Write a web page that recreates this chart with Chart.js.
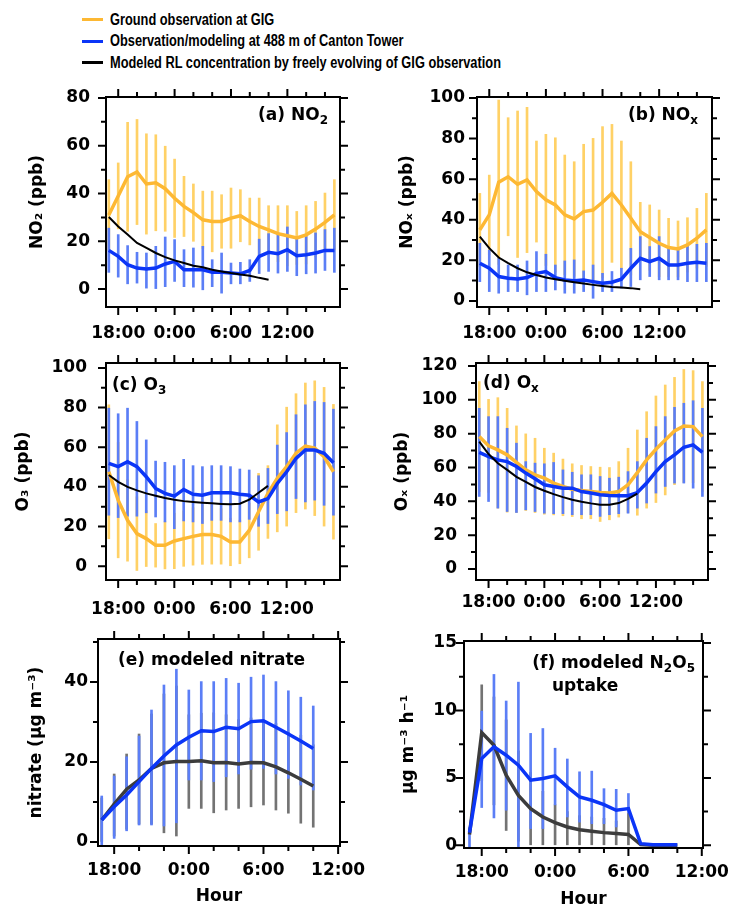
<!DOCTYPE html>
<html>
<head>
<meta charset="utf-8">
<script src="https://cdn.jsdelivr.net/npm/chart.js@4.4.1/dist/chart.umd.min.js"></script>
<style>
  html, body { margin: 0; padding: 0; background: #fff; }
  body { width: 731px; height: 910px; position: relative; overflow: hidden; }
  canvas { position: absolute; }
  #legend { position: absolute; left: 82px; top: 9px; }
  .row { height: 21.5px; display: flex; align-items: center; }
  .swatch { width: 21px; height: 3px; margin-right: 7px; flex: none; }
  .txt { font: bold 16px "Liberation Sans", Arial, sans-serif; white-space: nowrap;
         transform: scaleX(0.80); transform-origin: left center; }
</style>
</head>
<body>
<div id="legend">
  <div class="row"><div class="swatch" style="background:#fdb833"></div><div class="txt">Ground observation at GIG</div></div>
  <div class="row"><div class="swatch" style="background:#0b35f7"></div><div class="txt">Observation/modeling at 488 m of Canton Tower</div></div>
  <div class="row"><div class="swatch" style="background:#000"></div><div class="txt">Modeled RL concentration by freely evolving of GIG observation</div></div>
</div>
<script>
// hours: 17:00 on day 1 up to 17:00 (a-d) or 10:00 (model runs, e-f) next day
const hoursFull = [17, 18, 19, 20, 21, 22, 23, 24, 25, 26, 27, 28, 29, 30, 31, 32, 33, 34, 35, 36, 37, 38, 39, 40, 41];
const hoursNight = [17, 18, 19, 20, 21, 22, 23, 24, 25, 26, 27, 28, 29, 30, 31, 32, 33, 34];
const hourLabels = [18, 24, 30, 36];

// (a) NO2, ppb
const gigNO2 = [31, 39, 47, 49, 44, 44.5, 42, 38, 34.6, 32, 29, 28.3, 28.3, 29.7, 30.7, 28.3, 26.2, 24.8, 23.2, 22.3, 21.4, 22.7, 25.1, 27.9, 31.1];
const gigNO2Hi = [45.8, 52.8, 69.8, 71, 65, 64.6, 59.8, 54.4, 47.2, 44, 41, 41, 39.5, 42.3, 41.6, 38.1, 38.1, 34.9, 34.9, 34.9, 32.5, 34.9, 36.7, 40.2, 45.8];
const gigNO2Lo = [16.2, 25.2, 24.2, 27, 23, 24.4, 24.2, 21.6, 22, 20, 17, 15.6, 17.1, 17.1, 19.8, 18.5, 14.3, 14.7, 11.5, 9.7, 10.3, 10.5, 13.5, 15.6, 16.4];
const towerNO2 = [16.2, 13.7, 10.2, 8.8, 8.4, 8.8, 10.5, 11.6, 8.1, 8.1, 8.1, 7, 7, 6.7, 6.4, 7.8, 13.7, 15.4, 14.8, 16.5, 14, 14.4, 15.1, 16.2, 16.2];
const towerNO2Hi = [25.5, 22.8, 18.2, 15.4, 15.1, 17.9, 21.8, 20.7, 16.5, 17.2, 17.9, 12.3, 15.1, 10.9, 11.2, 12.3, 20.9, 23.2, 22.8, 26, 22, 22, 23.5, 24.9, 25.5];
const towerNO2Lo = [7, 5, 2.2, 2.5, 0.4, 0, 1, 3.2, 1, 0.8, -0.3, 1, -1.7, 2.2, 2.2, 3.2, 6.5, 7.4, 6.7, 7.4, 5.6, 6.4, 6.7, 7.8, 7];
const rlNO2 = [30.2, 26.2, 22.8, 19.3, 17.2, 15.1, 13.4, 12, 10.9, 9.8, 9.1, 8.1, 7.4, 6.7, 6.1, 5.6, 4.7, 3.9];

// (b) NOx, ppb
const gigNOx = [35, 42.4, 58.5, 61.2, 57.5, 59.6, 53.9, 49.8, 47.3, 42.4, 40.4, 44, 44.8, 48.6, 53, 47.3, 40.7, 34.1, 31.2, 28.4, 26.3, 25.6, 27.6, 30.9, 35];
const gigNOxHi = [53, 62, 99, 90.3, 93.6, 95.4, 78.8, 82.1, 80.4, 71.9, 68.6, 77.2, 80.1, 85.9, 87, 78.8, 68.6, 48.6, 47.3, 44.8, 40.7, 39.4, 41, 45.6, 53];
const gigNOxLo = [17, 22.8, 18, 32.1, 21.4, 23.8, 29, 17.5, 14.2, 12.9, 12.2, 10.8, 9.5, 11.3, 19, 15.8, 12.8, 19.6, 15.1, 12, 11.9, 11.8, 14.2, 16.2, 17];
const towerNOx = [18.6, 16.1, 12, 11.2, 10.8, 11.5, 13.6, 14.5, 11.5, 10.3, 9.9, 10.3, 9.5, 8.7, 9.2, 10.7, 16.1, 21, 19.4, 21, 17.7, 17.7, 18.6, 19, 18.6];
const towerNOxHi = [28.4, 25.1, 21, 17.7, 17.7, 19.7, 24.3, 23, 17.7, 19.7, 20.2, 14.8, 17.7, 13.6, 14.5, 16.1, 25.9, 31.7, 26.8, 31.7, 26.3, 26.3, 27.6, 27.9, 28.4];
const towerNOxLo = [9.5, 4.6, 3.8, 4.6, 4.6, 3, 4.6, 4.6, 5.4, 3.8, 3.8, 4.6, 1.3, 4.6, 4.6, 6.3, 7.1, 10.4, 12, 10.4, 10.4, 10.4, 9.5, 9.5, 9.5];
const rlNOx = [31.7, 26, 21.4, 18.6, 16.1, 14.1, 12.8, 11.5, 10.7, 9.9, 9.2, 8.6, 7.9, 7.3, 6.8, 6.6, 6.3, 5.7];

// (c) O3, ppb
const gigO3 = [47.6, 33.3, 23.1, 16.4, 13.9, 10.5, 10.5, 12.7, 13.9, 15, 15.9, 16, 15, 12.2, 12.2, 18, 27.4, 36.7, 44.3, 50.2, 57, 60.6, 59.5, 55.2, 47.6];
const gigO3Hi = [81.4, 62.4, 43.7, 35, 28, 21.5, 22.4, 26.7, 27.9, 29.5, 30.9, 31, 29, 24.2, 23.2, 31.8, 46.8, 50.7, 71.3, 80.2, 87, 92.4, 93.5, 90.2, 81.6];
const gigO3Lo = [13.8, 4.2, 2.5, -2.2, -0.2, -0.5, -1.4, -1.3, -0.1, 0.5, 0.9, 1, 1, 0.2, 1.2, 4.2, 8, 14, 17.3, 20.2, 27, 28.8, 25.5, 20.2, 13.6];
const towerO3 = [51.9, 50.2, 52.7, 50.2, 45.1, 39.2, 36.7, 35.3, 38.7, 36.3, 35.8, 37, 37, 37, 36.3, 35.8, 32.4, 34.1, 41.7, 47.6, 54.4, 58.6, 58.6, 56.9, 52.2];
const towerO3Hi = [79.7, 76.9, 79.7, 73, 63.7, 53, 52.4, 50.7, 53.9, 50.7, 50.2, 50.7, 50.7, 50.2, 49, 48.5, 45.6, 49.3, 61.1, 67.4, 76.4, 81.4, 83.1, 82.6, 79.2];
const towerO3Lo = [25.7, 24.5, 25.2, 25.2, 26.9, 24.8, 22.3, 18.9, 22.8, 22.3, 21.5, 23.1, 23.1, 22.3, 22.3, 23.6, 20.1, 21.5, 26.5, 27.9, 34.1, 32.4, 33.3, 30.7, 25.7];
const rlO3 = [46, 42.5, 40, 38.2, 36.7, 35.5, 34.4, 33.5, 32.8, 32.4, 32, 31.7, 31.4, 31.2, 31.5, 33.5, 37, 40.5];

// (d) Ox, ppb
const gigOx = [78.3, 72.8, 70.4, 67.5, 63, 58.6, 55.7, 53.7, 50.8, 48.8, 47.2, 46.4, 45.8, 45.2, 44.9, 45.8, 49.8, 57, 64.5, 70.8, 76.3, 81.6, 84.6, 84.2, 78.3];
const gigOxHi = [110.8, 100.3, 101.3, 95, 84.6, 79.9, 77.3, 71.4, 68.5, 65, 62.2, 61.2, 60.6, 60.2, 60, 63.5, 71.4, 82.2, 93, 102.3, 108.8, 113.3, 118, 117.3, 110.8];
const gigOxLo = [45.8, 45.3, 36, 33.6, 33.4, 34.6, 33.4, 32.4, 32, 31.5, 31, 29.7, 29.7, 28.1, 29.1, 30.7, 33.4, 31.8, 36, 39.3, 43.8, 49.9, 51.2, 51.1, 45.8];
const towerOx = [68.9, 66.5, 64.5, 63.5, 60.6, 56.7, 53.3, 49.8, 48.8, 47.8, 47.8, 45.8, 44.9, 43.9, 43.5, 43.3, 43.3, 45.2, 50.8, 57.6, 63.5, 67.5, 72, 73.4, 68.9];
const towerOxHi = [95, 90.1, 90.1, 83.2, 74.4, 63.5, 62.6, 62.2, 63, 58.6, 57.2, 55.7, 55.7, 54.7, 53.7, 54.3, 57.6, 63.5, 77.3, 84.2, 90.1, 95.6, 98, 99.5, 95];
const towerOxLo = [42.9, 39.9, 36, 34, 33.4, 35, 34, 33, 32.7, 32.7, 32.1, 32.1, 32.1, 31.1, 32.1, 32.7, 33, 36, 39, 44.9, 48.8, 50.8, 50.8, 47.8, 42.9];
const rlOx = [75.3, 68, 62.5, 58.6, 54.5, 51.5, 48.5, 46.3, 44.3, 42.5, 41, 39.8, 38.8, 38, 38, 39, 41.5, 44.5];

// (e) modeled nitrate, ug m-3
const nitrateTower = [5.5, 8.8, 11.75, 15.1, 18.4, 21.5, 24.25, 26.2, 27.8, 27.6, 28.7, 28.3, 30.1, 30.3, 28.7, 27, 25.25, 23.4];
const nitrateTowerHi = [11.5, 16.5, 21.3, 26.5, 33, 39.25, 43.2, 38, 40.1, 40.1, 40.9, 39.7, 41.2, 41.75, 40.1, 37.8, 36.2, 34];
const nitrateTowerLo = [-1.5, 0.9, 2.8, 4.25, 4.25, 4, 4.8, 15.5, 15.5, 15.1, 16.3, 17, 18.2, 18.4, 17, 15.9, 14.25, 13];
const nitrateRL = [5.5, 9.5, 13.2, 15.5, 18.4, 19.8, 20.1, 20.1, 20.3, 19.8, 19.9, 19.5, 19.9, 19.8, 18.8, 17.3, 15.7, 14];
const nitrateRLHi = [11, 17, 22, 27, 32, 37, 39, 31.8, 32.2, 32.3, 31.8, 30.6, 31, 30.4, 29.6, 27.4, 26.7, 24.3];
const nitrateRLLo = [0, 1.5, 3.2, 4.5, 4.5, 2.3, 1.5, 8.4, 8.4, 7.3, 8, 8.4, 8.8, 9.25, 8, 7.2, 4.7, 3.7];

// (f) modeled N2O5 uptake, ug m-3 h-1
const uptakeTower = [0.94, 6.43, 7.3, 6.68, 5.94, 4.83, 4.95, 5.15, 4.33, 3.59, 3.34, 3.02, 2.6, 2.72, 0.12, 0.05, 0.05, 0.05];
const uptakeTowerHi = [1.3, 9.95, 12.67, 10.7, 12.1, 8.3, 8.66, 7.2, 6.4, 5.45, 5.5, 4.2, 4.15, 3.84, null, null, null, null];
const uptakeTowerLo = [-0.3, 2.8, 2.03, 2.6, -0.1, 1.24, 1.24, 3.0, 2.1, 1.72, 1.6, 1.6, 1.36, 2.4, null, null, null, null];
const uptakeRL = [0.8, 8.36, 7.42, 5.2, 3.7, 2.72, 2.1, 1.68, 1.36, 1.16, 1.04, 0.94, 0.87, 0.8, 0.05, 0, 0, 0];
const uptakeRLHi = [null, 11.9, 11, 9.3, 7, 5.4, 4, 3.0, 2.5, 2.2, 2.1, 2.0, 1.8, 2.4, null, null, null, null];
const uptakeRLLo = [null, 4.8, 3, 1.1, 0.3, 0, 0, 0, 0, 0, 0, 0, 0, 0, null, null, null, null];


const FONT = '"DejaVu Sans", sans-serif';
const YELLOW = '#fdb833', YELLOW_BAR = '#ffd166';
const BLUE = '#0b35f7', BLUE_BAR = '#5b7ef6';
const GRAY = '#3c3c3c', GRAY_BAR = '#737373';

Chart.defaults.font.family = FONT;
Chart.defaults.font.size = 17;
Chart.defaults.font.weight = 'bold';
Chart.defaults.color = '#000';

function errBars(xs, lo, hi, color, order) {
    return {
        type: 'bar',
        data: xs.map((x, i) => ({ x: x, y: lo[i] == null ? null : [lo[i], hi[i]] })),
        backgroundColor: color,
        barThickness: 2,
        grouped: false,
        order: order
    };
}

function line(xs, ys, color, width, order) {
    return {
        type: 'line',
        data: xs.map((x, i) => ({ x: x, y: ys[i] })),
        borderColor: color,
        borderWidth: width,
        pointRadius: 0,
        tension: 0,
        fill: false,
        order: order
    };
}

// text with subscripts, parts = [[text, isSub], ...]
function drawRich(ctx, parts, x, y, align) {
    const big = 'bold 17px ' + FONT, small = 'bold 12px ' + FONT;
    let w = 0;
    parts.forEach(p => { ctx.font = p[1] ? small : big; w += ctx.measureText(p[0]).width; });
    let cx = align === 'right' ? x - w : x;
    ctx.textAlign = 'left';
    ctx.textBaseline = 'alphabetic';
    ctx.fillStyle = '#000';
    parts.forEach(p => {
        ctx.font = p[1] ? small : big;
        ctx.fillText(p[0], cx, p[1] ? y + 4 : y);
        cx += ctx.measureText(p[0]).width;
    });
}

// box around the plot, ticks on all four sides, panel caption
const framePlugin = {
    id: 'frame',
    afterDraw(chart, args, o) {
        const { ctx, chartArea: a } = chart;
        const x = chart.scales.x, y = chart.scales.y;
        ctx.save();
        ctx.strokeStyle = '#000';
        ctx.lineWidth = 2;
        ctx.strokeRect(a.left, a.top, a.right - a.left, a.bottom - a.top);
        ctx.beginPath();
        for (let h = 18; h <= x.max + 0.01; h += 2) {
            const px = x.getPixelForValue(h);
            const len = h % 6 === 0 ? 8 : 5;
            ctx.moveTo(px, a.bottom); ctx.lineTo(px, a.bottom + len);
            ctx.moveTo(px, a.top); ctx.lineTo(px, a.top - len);
        }
        for (let v = 0; v <= y.max + 1e-6; v += o.minor) {
            const py = y.getPixelForValue(v);
            const r = v / o.major;
            const len = Math.abs(r - Math.round(r)) < 1e-6 ? 8 : 5;
            ctx.moveTo(a.left, py); ctx.lineTo(a.left - len, py);
            ctx.moveTo(a.right, py); ctx.lineTo(a.right + len, py);
        }
        ctx.stroke();
        o.captions.forEach(c => {
            const cx = c.align === 'right' ? a.right - c.dx : a.left + c.dx;
            drawRich(ctx, c.parts, cx, a.top + c.dy, c.align);
        });
        ctx.restore();
    }
};

const panels = [
    { cx: 0, cy: 80, cw: 365, ch: 265, box: { l: 106, t: 97, r: 340, b: 307 }, titleLeft: 27, yGap: 16, xGap: 16,
      xMin: 16.7, xMax: 41.6, yMin: -7.5, yMax: 80.4, yTicks: [0, 20, 40, 60, 80], major: 20, minor: 10,
      yTitle: 'NO₂ (ppb)',
      captions: [{ parts: [['(a) NO'], ['2', 1]], align: 'right', dx: 12, dy: 23 }],
      datasets: [
          errBars(hoursFull, gigNO2Lo, gigNO2Hi, YELLOW_BAR, 6),
          errBars(hoursFull, towerNO2Lo, towerNO2Hi, BLUE_BAR, 5),
          line(hoursFull, gigNO2, YELLOW, 3.5, 3),
          line(hoursFull, towerNO2, BLUE, 3.5, 2),
          line(hoursNight, rlNO2, '#000', 2, 1)
      ] },
    { cx: 365, cy: 80, cw: 366, ch: 265, box: { l: 477, t: 97, r: 712, b: 307 }, titleLeft: 397, yGap: 12, xGap: 16,
      xMin: 16.7, xMax: 41.6, yMin: -3, yMax: 100.5, yTicks: [0, 20, 40, 60, 80, 100], major: 20, minor: 10,
      yTitle: 'NOₓ (ppb)',
      captions: [{ parts: [['(b) NO'], ['x', 1]], align: 'right', dx: 14, dy: 23 }],
      datasets: [
          errBars(hoursFull, gigNOxLo, gigNOxHi, YELLOW_BAR, 6),
          errBars(hoursFull, towerNOxLo, towerNOxHi, BLUE_BAR, 5),
          line(hoursFull, gigNOx, YELLOW, 3.5, 3),
          line(hoursFull, towerNOx, BLUE, 3.5, 2),
          line(hoursNight, rlNOx, '#000', 2, 1)
      ] },
    { cx: 0, cy: 348, cw: 365, ch: 282, box: { l: 106, t: 363, r: 340, b: 580 }, titleLeft: 13, yGap: 19, xGap: 19,
      xMin: 16.7, xMax: 41.7, yMin: -7, yMax: 102.5, yTicks: [0, 20, 40, 60, 80, 100], major: 20, minor: 10,
      yTitle: 'O₃ (ppb)',
      captions: [{ parts: [['(c) O'], ['3', 1]], align: 'left', dx: 6, dy: 27 }],
      datasets: [
          errBars(hoursFull, gigO3Lo, gigO3Hi, YELLOW_BAR, 6),
          errBars(hoursFull, towerO3Lo, towerO3Hi, BLUE_BAR, 5),
          line(hoursFull, gigO3, YELLOW, 3.5, 3),
          line(hoursFull, towerO3, BLUE, 3.5, 2),
          line(hoursNight, rlO3, '#000', 2, 1)
      ] },
    { cx: 365, cy: 348, cw: 366, ch: 282, box: { l: 476, t: 363, r: 708, b: 580 }, titleLeft: 392, yGap: 19, xGap: 12,
      xMin: 16.65, xMax: 41.6, yMin: -6.5, yMax: 121.8, yTicks: [0, 20, 40, 60, 80, 100, 120], major: 20, minor: 10,
      yTitle: 'Oₓ (ppb)',
      captions: [{ parts: [['(d) O'], ['x', 1]], align: 'left', dx: 7, dy: 25 }],
      datasets: [
          errBars(hoursFull, gigOxLo, gigOxHi, YELLOW_BAR, 6),
          errBars(hoursFull, towerOxLo, towerOxHi, BLUE_BAR, 5),
          line(hoursFull, gigOx, YELLOW, 3.5, 3),
          line(hoursFull, towerOx, BLUE, 3.5, 2),
          line(hoursNight, rlOx, '#000', 2, 1)
      ] },
    { cx: 0, cy: 625, cw: 372, ch: 285, box: { l: 98, t: 639, r: 340, b: 846 }, titleLeft: 26, yGap: 10, xGap: 14,
      xMin: 16.7, xMax: 36.15, yMin: -1, yMax: 50.75, yTicks: [0, 20, 40], major: 20, minor: 10,
      yTitle: 'nitrate (μg m⁻³)', xTitle: 'Hour', xTitlePad: 3,
      captions: [{ parts: [['(e) modeled nitrate']], align: 'left', dx: 20, dy: 26 }],
      datasets: [
          errBars(hoursNight, nitrateRLLo, nitrateRLHi, GRAY_BAR, 6),
          errBars(hoursNight, nitrateTowerLo, nitrateTowerHi, BLUE_BAR, 5),
          line(hoursNight, nitrateRL, GRAY, 3.5, 2),
          line(hoursNight, nitrateTower, BLUE, 3.5, 1)
      ] },
    { cx: 365, cy: 625, cw: 380, ch: 285, box: { l: 464, t: 641, r: 703, b: 848 }, titleLeft: 398, yGap: 7, xGap: 14,
      xMin: 16.55, xMax: 36.1, yMin: -0.2, yMax: 15.15, yTicks: [0, 5, 10, 15], major: 5, minor: 2.5,
      yTitle: 'μg m⁻³ h⁻¹', xTitle: 'Hour', xTitlePad: 0,
      captions: [
          { parts: [['(f) modeled N'], ['2', 1], ['O'], ['5', 1]], align: 'right', dx: 8, dy: 27 },
          { parts: [['uptake']], align: 'left', dx: 88, dy: 50 }
      ],
      datasets: [
          errBars(hoursNight, uptakeRLLo, uptakeRLHi, GRAY_BAR, 6),
          errBars(hoursNight, uptakeTowerLo, uptakeTowerHi, BLUE_BAR, 5),
          line(hoursNight, uptakeRL, GRAY, 3.5, 2),
          line(hoursNight, uptakeTower, BLUE, 3.5, 1)
      ] }
];

const hidden = 'rgba(0,0,0,0)';

panels.forEach(p => {
    const canvas = document.createElement('canvas');
    canvas.width = p.cw;
    canvas.height = p.ch;
    canvas.style.left = p.cx + 'px';
    canvas.style.top = p.cy + 'px';
    canvas.style.width = p.cw + 'px';
    canvas.style.height = p.ch + 'px';
    document.body.appendChild(canvas);

    new Chart(canvas, {
        type: 'bar',
        data: { datasets: p.datasets },
        options: {
            responsive: false,
            animation: false,
            layout: {
                padding: { left: p.titleLeft - p.cx, top: p.box.t - p.cy, right: p.cx + p.cw - p.box.r, bottom: 0 }
            },
            plugins: {
                legend: { display: false },
                tooltip: { enabled: false },
                frame: { major: p.major, minor: p.minor, captions: p.captions }
            },
            scales: {
                x: {
                    type: 'linear',
                    min: p.xMin,
                    max: p.xMax,
                    offset: false,
                    grid: { display: true, drawOnChartArea: false, drawTicks: true, tickLength: p.xGap, color: hidden, tickColor: hidden },
                    border: { display: false },
                    ticks: { padding: 0, autoSkip: false, maxRotation: 0, callback: v => (v % 24) + ':00' },
                    afterBuildTicks: s => { s.ticks = hourLabels.map(v => ({ value: v })); },
                    afterFit: s => { s.height = p.cy + p.ch - p.box.b; },
                    title: p.xTitle ? { display: true, text: p.xTitle, padding: { top: 0, bottom: p.xTitlePad } } : { display: false }
                },
                y: {
                    min: p.yMin,
                    max: p.yMax,
                    grid: { display: true, drawOnChartArea: false, drawTicks: true, tickLength: p.yGap, color: hidden, tickColor: hidden },
                    border: { display: false },
                    ticks: { padding: 0, callback: v => v },
                    afterBuildTicks: s => { s.ticks = p.yTicks.map(v => ({ value: v })); },
                    afterFit: s => { s.width = p.box.l - p.titleLeft; },
                    title: { display: true, text: p.yTitle, padding: 0 }
                }
            }
        },
        plugins: [framePlugin]
    });
});
</script>
</body>
</html>
